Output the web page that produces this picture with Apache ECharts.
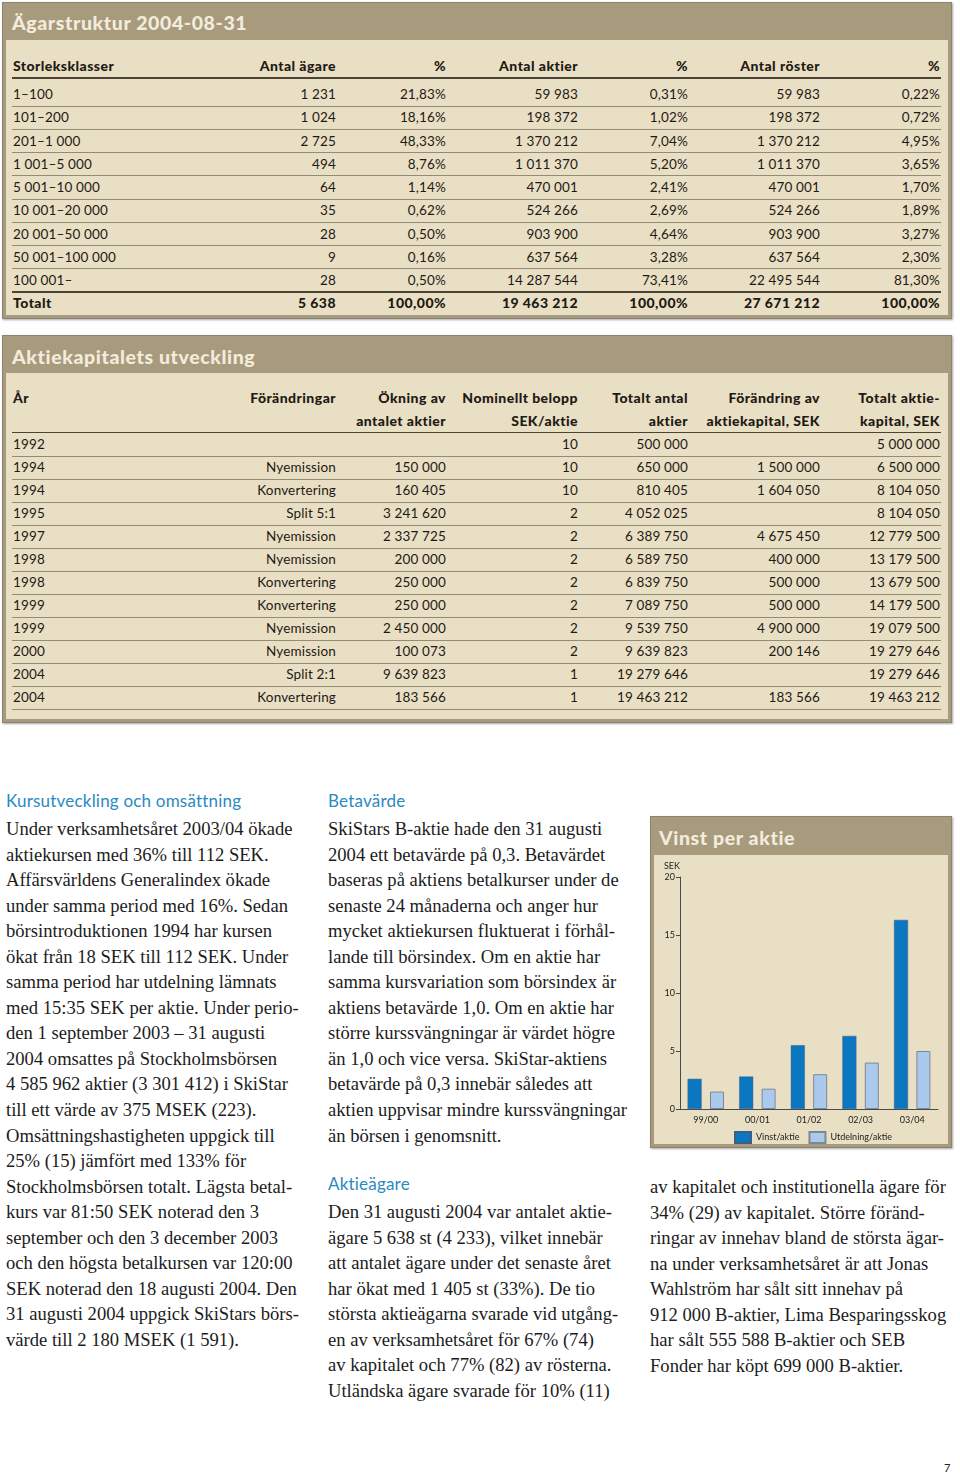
<!DOCTYPE html>
<html>
<head>
<meta charset="utf-8">
<script src="https://cdn.jsdelivr.net/npm/echarts@6/dist/echarts.min.js"></script>
<style>
  html, body { margin:0; padding:0; background:#fff; }
  body { width:960px; height:1473px; position:relative; overflow:hidden; font-family: Lato, "Open Sans", sans-serif; color:#222; }
  .panel { position:absolute; background:#a89a7d; border:1px solid #8c8270; box-shadow:1px 1px 2px rgba(0,0,0,0.35); box-sizing:border-box; }
  .inner { position:absolute; background:#e9dfc4; left:3px; right:3px; bottom:3px; }
  .ptitle { position:absolute; color:#f2ecdc; font-weight:900; font-family: Lato, sans-serif; white-space:nowrap; letter-spacing:0.6px; }
  .cell { position:absolute; height:20px; line-height:20px; font-size:13.5px; letter-spacing:0.15px; white-space:nowrap; color:#1e1a14; }
  .cell.r { text-align:right; }
  .cell.b { font-weight:900; font-size:14px; letter-spacing:0.45px; }
  .hline { position:absolute; height:1px; background:#958b74; }
  .hline.dark { background:#4b4334; height:1.5px; }
  .body { position:absolute; font-family:"Liberation Serif", "DejaVu Serif", serif; font-size:18.6px; line-height:25.55px; white-space:pre; color:#1c1c1c; }
  .head { position:absolute; font-family: Lato, sans-serif; font-size:17px; line-height:20px; color:#2a8ac2; white-space:nowrap; letter-spacing:0.2px; }
</style>
</head>
<body>
<script>
// ---------- DATA ----------
const sizeClasses = ['1–100','101–200','201–1 000','1 001–5 000','5 001–10 000','10 001–20 000','20 001–50 000','50 001–100 000','100 001–'];
const ownerCounts = ['1 231','1 024','2 725','494','64','35','28','9','28'];
const ownerPct = ['21,83%','18,16%','48,33%','8,76%','1,14%','0,62%','0,50%','0,16%','0,50%'];
const shareCounts = ['59 983','198 372','1 370 212','1 011 370','470 001','524 266','903 900','637 564','14 287 544'];
const sharePct = ['0,31%','1,02%','7,04%','5,20%','2,41%','2,69%','4,64%','3,28%','73,41%'];
const voteCounts = ['59 983','198 372','1 370 212','1 011 370','470 001','524 266','903 900','637 564','22 495 544'];
const votePct = ['0,22%','0,72%','4,95%','3,65%','1,70%','1,89%','3,27%','2,30%','81,30%'];
const ownerTotals = ['Totalt','5 638','100,00%','19 463 212','100,00%','27 671 212','100,00%'];
const ownerHeaders = ['Storleksklasser','Antal ägare','%','Antal aktier','%','Antal röster','%'];

const capYears = ['1992','1994','1994','1995','1997','1998','1998','1999','1999','2000','2004','2004'];
const capChanges = ['','Nyemission','Konvertering','Split 5:1','Nyemission','Nyemission','Konvertering','Konvertering','Nyemission','Nyemission','Split 2:1','Konvertering'];
const capIncrease = ['','150 000','160 405','3 241 620','2 337 725','200 000','250 000','250 000','2 450 000','100 073','9 639 823','183 566'];
const capNominal = ['10','10','10','2','2','2','2','2','2','2','1','1'];
const capTotalShares = ['500 000','650 000','810 405','4 052 025','6 389 750','6 589 750','6 839 750','7 089 750','9 539 750','9 639 823','19 279 646','19 463 212'];
const capChangeSek = ['','1 500 000','1 604 050','','4 675 450','400 000','500 000','500 000','4 900 000','200 146','','183 566'];
const capTotalSek = ['5 000 000','6 500 000','8 104 050','8 104 050','12 779 500','13 179 500','13 679 500','14 179 500','19 079 500','19 279 646','19 279 646','19 463 212'];
const capHeaders1 = ['År','Förändringar','Ökning av','Nominellt belopp','Totalt antal','Förändring av','Totalt aktie-'];
const capHeaders2 = ['','','antalet aktier','SEK/aktie','aktier','aktiekapital, SEK','kapital, SEK'];

const periods = ['99/00','00/01','01/02','02/03','03/04'];
const epsValues = [2.6, 2.8, 5.5, 6.3, 16.3];
const dividendValues = [1.5, 1.75, 3.0, 4.0, 5.0];
const yTicks = [0, 5, 10, 15, 20];
</script>

<!-- Panel 1 -->
<div class="panel" style="left:2px;top:2px;width:950px;height:317px;">
  <div class="inner" style="top:37px;"></div>
  <div class="ptitle" style="left:9px;top:8px;font-size:19.5px;line-height:24px;">Ägarstruktur 2004-08-31</div>
</div>
<!-- Panel 2 -->
<div class="panel" style="left:2px;top:335px;width:950px;height:388px;">
  <div class="inner" style="top:37px;"></div>
  <div class="ptitle" style="left:9px;top:9px;font-size:19.5px;line-height:24px;">Aktiekapitalets utveckling</div>
</div>
<div id="tables"></div>

<!-- Text columns -->
<div class="head" style="left:6px;top:791px;">Kursutveckling och omsättning</div>
<div class="body" style="left:6px;top:816px;">Under verksamhetsåret 2003/04 ökade
aktiekursen med 36% till 112 SEK.
Affärsvärldens Generalindex ökade
under samma period med 16%. Sedan
börsintroduktionen 1994 har kursen
ökat från 18 SEK till 112 SEK. Under
samma period har utdelning lämnats
med 15:35 SEK per aktie. Under perio-
den 1 september 2003 – 31 augusti
2004 omsattes på Stockholmsbörsen
4 585 962 aktier (3 301 412) i SkiStar
till ett värde av 375 MSEK (223).
Omsättningshastigheten uppgick till
25% (15) jämfört med 133% för
Stockholmsbörsen totalt. Lägsta betal-
kurs var 81:50 SEK noterad den 3
september och den 3 december 2003
och den högsta betalkursen var 120:00
SEK noterad den 18 augusti 2004. Den
31 augusti 2004 uppgick SkiStars börs-
värde till 2 180 MSEK (1 591).</div>

<div class="head" style="left:328px;top:791px;">Betavärde</div>
<div class="body" style="left:328px;top:816px;">SkiStars B-aktie hade den 31 augusti
2004 ett betavärde på 0,3. Betavärdet
baseras på aktiens betalkurser under de
senaste 24 månaderna och anger hur
mycket aktiekursen fluktuerat i förhål-
lande till börsindex. Om en aktie har
samma kursvariation som börsindex är
aktiens betavärde 1,0. Om en aktie har
större kurssvängningar är värdet högre
än 1,0 och vice versa. SkiStar-aktiens
betavärde på 0,3 innebär således att
aktien uppvisar mindre kurssvängningar
än börsen i genomsnitt.</div>

<div class="head" style="left:328px;top:1174px;">Aktieägare</div>
<div class="body" style="left:328px;top:1199px;">Den 31 augusti 2004 var antalet aktie-
ägare 5 638 st (4 233), vilket innebär
att antalet ägare under det senaste året
har ökat med 1 405 st (33%). De tio
största aktieägarna svarade vid utgång-
en av verksamhetsåret för 67% (74)
av kapitalet och 77% (82) av rösterna.
Utländska ägare svarade för 10% (11)</div>

<div class="body" style="left:650px;top:1174px;">av kapitalet och institutionella ägare för
34% (29) av kapitalet. Större föränd-
ringar av innehav bland de största ägar-
na under verksamhetsåret är att Jonas
Wahlström har sålt sitt innehav på
912 000 B-aktier, Lima Besparingsskog
har sålt 555 588 B-aktier och SEB
Fonder har köpt 699 000 B-aktier.</div>

<!-- Chart panel -->
<div class="panel" style="left:650px;top:816px;width:302px;height:332px;">
  <div class="inner" style="top:38px;"></div>
  <div class="ptitle" style="left:8px;top:9px;font-size:19.5px;line-height:24px;">Vinst per aktie</div>
</div>
<div id="chart" style="position:absolute;left:650px;top:856px;width:302px;height:291px;"></div>

<div style="position:absolute;left:944px;top:1461px;font-size:11px;line-height:14px;color:#222;">7</div>

<script>
// ---------- TABLES ----------
const host = document.getElementById('tables');
const rightEdges = [336, 446, 578, 688, 820, 940];
function addCell(text, xLeftOrRight, yCenter, opts) {
  if (!text) return;
  const d = document.createElement('div');
  d.className = 'cell' + (opts.right ? ' r' : '') + (opts.bold ? ' b' : '');
  d.textContent = text;
  d.style.top = (yCenter - 10) + 'px';
  if (opts.right) { d.style.left = (xLeftOrRight - 200) + 'px'; d.style.width = '200px'; }
  else d.style.left = xLeftOrRight + 'px';
  host.appendChild(d);
}
function addLine(y, dark) {
  const l = document.createElement('div');
  l.className = 'hline' + (dark ? ' dark' : '');
  l.style.left = '12px'; l.style.width = '929px'; l.style.top = y + 'px';
  host.appendChild(l);
}
function addRow(cells, y, bold) {
  addCell(cells[0], 13, y, {bold});
  for (let i = 1; i < cells.length; i++) addCell(cells[i], rightEdges[i - 1], y, {right:true, bold});
}
// Table 1
addRow(ownerHeaders, 66, true);
addLine(77, true);
sizeClasses.forEach((c, i) => {
  const y = 94 + i * 23.25;
  addRow([c, ownerCounts[i], ownerPct[i], shareCounts[i], sharePct[i], voteCounts[i], votePct[i]], y, false);
  if (i < sizeClasses.length - 1) addLine(y + 11.5, false);
});
addLine(291, true);
addRow(ownerTotals, 303, true);
// Table 2
addRow(capHeaders1, 398, true);
addRow(capHeaders2, 421, true);
addLine(431.5, true);
capYears.forEach((yr, i) => {
  const y = 444 + i * 23.0;
  addRow([yr, capChanges[i], capIncrease[i], capNominal[i], capTotalShares[i], capChangeSek[i], capTotalSek[i]], y, false);
  addLine(y + 11.5, false);
});

// ---------- CHART ----------
const chart = echarts.init(document.getElementById('chart'), null, {renderer:'canvas'});
const font = 'Lato, "Open Sans", sans-serif';
chart.setOption({
  animation:false,
  backgroundColor:'transparent',
  textStyle:{fontFamily:font},
  grid:{left:30, right:14, top:21, bottom:38},
  legend:{
    left:79, top:270, itemWidth:16, itemHeight:11, itemGap:9, icon:'rect',
    textStyle:{fontSize:9, color:'#222', fontFamily:font},
    data:['Vinst/aktie','Utdelning/aktie']
  },
  xAxis:{
    type:'category', data:periods,
    axisLine:{lineStyle:{color:'#4a4a4a', width:1}},
    axisTick:{show:false},
    axisLabel:{fontSize:9, color:'#222', margin:7, fontFamily:font}
  },
  yAxis:{
    type:'value', min:yTicks[0], max:yTicks[yTicks.length-1], interval:5,
    name:'SEK', nameLocation:'end', nameGap:6,
    nameTextStyle:{fontSize:9, color:'#222', align:'right', fontFamily:font},
    axisLine:{show:true, lineStyle:{color:'#4a4a4a', width:1}},
    axisTick:{show:true, length:4, lineStyle:{color:'#4a4a4a'}},
    splitLine:{show:false},
    axisLabel:{fontSize:9, color:'#222', margin:5, fontFamily:font}
  },
  series:[
    {name:'Vinst/aktie', type:'bar', data:epsValues, barWidth:14, barGap:'60%',
     itemStyle:{color:'#0a77c0', borderColor:'#3a5f80', borderWidth:0.5}},
    {name:'Utdelning/aktie', type:'bar', data:dividendValues, barWidth:14,
     itemStyle:{color:'#abc9ec', borderColor:'#7e8894', borderWidth:1}}
  ]
});
</script>
</body>
</html>
